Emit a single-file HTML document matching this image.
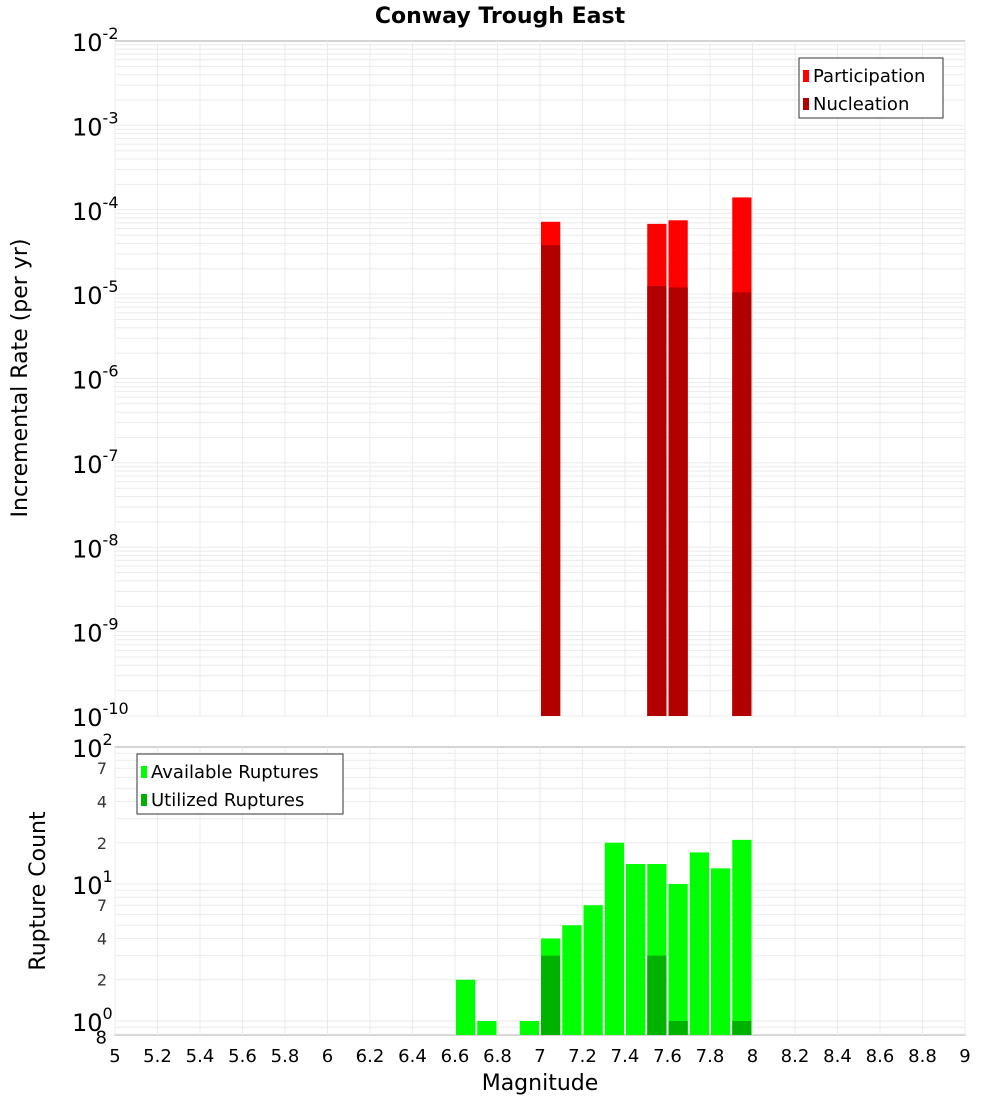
<!DOCTYPE html>
<html><head><meta charset="utf-8"><style>
body{margin:0;background:#fff;font-family:"DejaVu Sans","Liberation Sans",sans-serif}
svg text{font-family:"DejaVu Sans","Liberation Sans",sans-serif}
</style></head><body>
<svg id="c" width="1000" height="1100" xmlns="http://www.w3.org/2000/svg">
<text x="500" y="23" text-anchor="middle" font-size="22" font-weight="bold">Conway Trough East</text>
<text transform="translate(27,378) rotate(-90)" text-anchor="middle" font-size="22">Incremental Rate (per yr)</text>
<text transform="translate(45,891) rotate(-90)" text-anchor="middle" font-size="22">Rupture Count</text>
<text x="540" y="1090" text-anchor="middle" font-size="22">Magnitude</text>
<g id="topg"></g><g id="botg"></g>
</svg>
<script>
const magBins=[7.05,7.55,7.65,7.95];
const participation=[7.2e-5,6.8e-5,7.5e-5,1.4e-4];
const nucleation=[3.8e-5,1.25e-5,1.2e-5,1.05e-5];
const countBins=[6.65,6.75,6.95,7.05,7.15,7.25,7.35,7.45,7.55,7.65,7.75,7.85,7.95];
const available=[2,1,1,4,5,7,20,14,14,10,17,13,21];
const utilizedBins=[7.05,7.55,7.65,7.95];
const utilized=[3,3,1,1];
const xTicks=[5,5.2,5.4,5.6,5.8,6,6.2,6.4,6.6,6.8,7,7.2,7.4,7.6,7.8,8,8.2,8.4,8.6,8.8,9];
const topExps=[-10,-9,-8,-7,-6,-5,-4,-3,-2];
const botMinor=[2,4,7];
const NS="http://www.w3.org/2000/svg";
const L=115,R=965;
const x=m=>L+(m-5)/4*(R-L);
const T1=41,B1=716,yT=v=>B1-(Math.log10(v)+10)/8*(B1-T1);
const T2=747,B2=1035,ymin=0.79,ymax=100;
const yB=v=>B2-(Math.log10(v)-Math.log10(ymin))/(Math.log10(ymax)-Math.log10(ymin))*(B2-T2);
function mk(p,tag,a,txt){const e=document.createElementNS(NS,tag);for(const k in a)e.setAttribute(k,a[k]);if(txt!==undefined)e.textContent=txt;p.appendChild(e);return e;}
const gTop=document.getElementById('topg'),gBot=document.getElementById('botg');
for(const [g,T,B] of [[gTop,T1,B1],[gBot,T2,B2]]){
 const r=mk(g,'rect',{x:L,y:T,width:R-L,height:B-T,fill:'#fff',stroke:'#aaa'});
 
 
 xTicks.forEach(t=>mk(g,'line',{x1:x(t),x2:x(t),y1:T,y2:B,stroke:'#ebebeb'}));
}
for(let e=-10;e<-2;e++)for(let k=1;k<10;k++){const yy=yT(k*Math.pow(10,e));mk(gTop,'line',{x1:L,x2:R,y1:yy,y2:yy,stroke:'#ebebeb'});}
for(let e=-1;e<2;e++)for(let k=1;k<10;k++){const v=k*Math.pow(10,e);if(v<ymin)continue;const yy=yB(v);mk(gBot,'line',{x1:L,x2:R,y1:yy,y2:yy,stroke:'#ebebeb'});}
magBins.forEach((m,i)=>{
 const b=mk(gTop,'rect',{x:x(m-0.05)+1,y:yT(participation[i]),width:x(m+0.05)-x(m-0.05)-2,height:B1-yT(participation[i]),fill:'#ff0000'});
 
 
 const n=mk(gTop,'rect',{x:x(m-0.05)+1,y:yT(nucleation[i]),width:x(m+0.05)-x(m-0.05)-2,height:B1-yT(nucleation[i]),fill:'#b20000'});
 
 
});
countBins.forEach((m,i)=>{
 const b=mk(gBot,'rect',{x:x(m-0.05)+1,y:yB(available[i]),width:x(m+0.05)-x(m-0.05)-2,height:B2-yB(available[i]),fill:'#00ff00'});
 
 
});
utilizedBins.forEach((m,i)=>{
 const b=mk(gBot,'rect',{x:x(m-0.05)+1,y:yB(utilized[i]),width:x(m+0.05)-x(m-0.05)-2,height:B2-yB(utilized[i]),fill:'#00b200'});
 
 
});
topExps.forEach(e=>{const yy=yT(Math.pow(10,e));
 const t=mk(gTop,'text',{x:72,y:yy+10,'font-size':24});
 
 
 mk(t,'tspan',{},'10');mk(t,'tspan',{dy:-12,'font-size':16},String(e));});
[0,1,2].forEach(e=>{const yy=yB(Math.pow(10,e));
 const t=mk(gBot,'text',{x:72,y:yy+10,'font-size':24});
 
 
 mk(t,'tspan',{},'10');mk(t,'tspan',{dy:-12,'font-size':16},String(e));});
[0,1].forEach(e=>botMinor.forEach(k=>{const yy=yB(k*Math.pow(10,e));
 const t=mk(gBot,'text',{x:107,y:yy+6,'font-size':16,'text-anchor':'end',fill:'#333'},String(k));
 
 }));
{const t=mk(gBot,'text',{x:107,y:yB(0.8)+9,'font-size':18,'text-anchor':'end'},'8');
 
 }
xTicks.forEach(t=>{const e=mk(gBot,'text',{x:x(t),y:1062,'font-size':18,'text-anchor':'middle'},String(t));
 
 });
function legend(g,lx,ly,w,items,nm){
 const lg=mk(g,'g',{});
 
 
 mk(lg,'rect',{x:lx,y:ly,width:w,height:60,fill:'#fff',stroke:'#333'});
 items.forEach((it,i)=>{mk(lg,'rect',{x:lx+4,y:ly+12+i*28,width:6,height:12,fill:it[1]});
  const t=mk(lg,'text',{x:lx+14,y:ly+24+i*28,'font-size':18},it[0]);
  
  });
}
legend(gTop,799,58,144,[['Participation','#ff0000'],['Nucleation','#b20000']],'top-legend');
legend(gBot,137,754,206,[['Available Ruptures','#00ff00'],['Utilized Ruptures','#00b200']],'bottom-legend');
</script>
</body></html>
